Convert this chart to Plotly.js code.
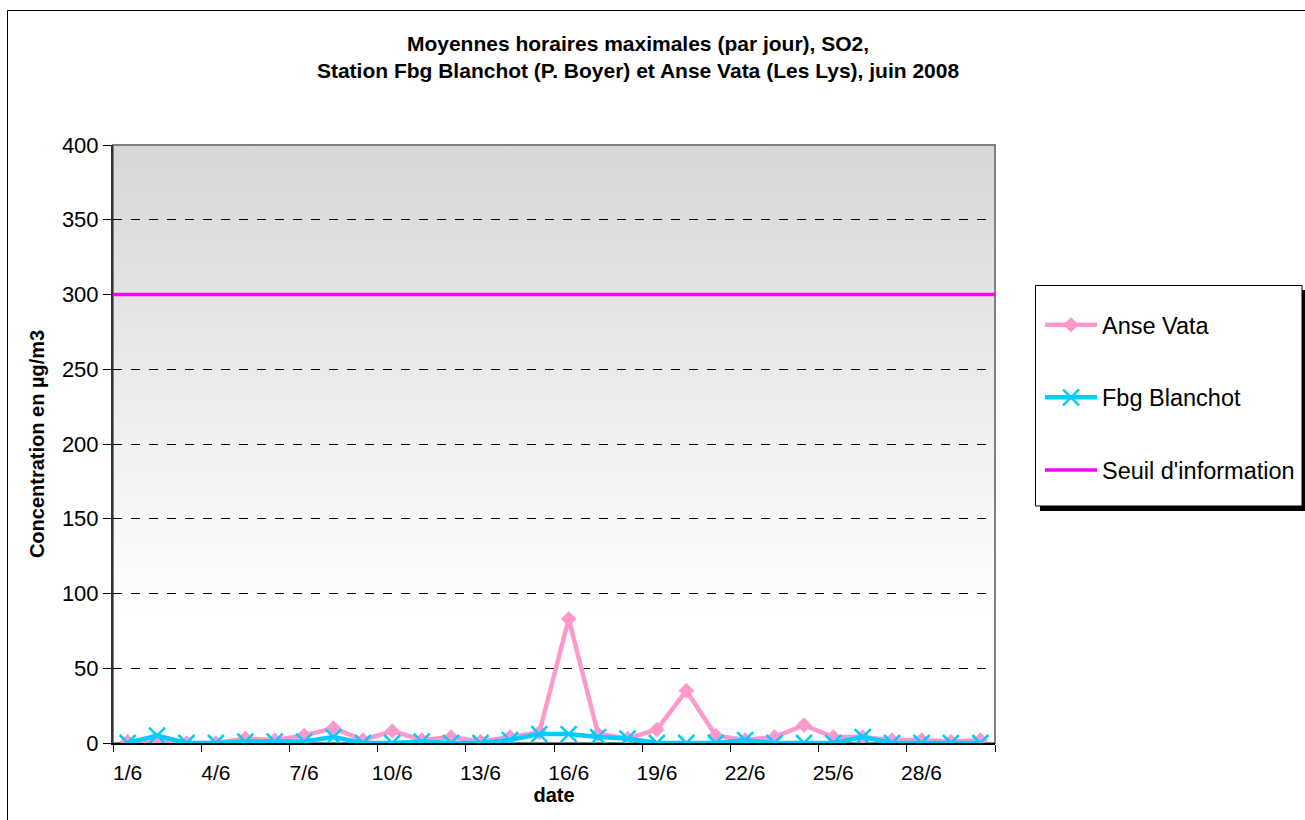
<!DOCTYPE html>
<html>
<head>
<meta charset="utf-8">
<script src="https://cdn.plot.ly/plotly-3.0.1.min.js"></script>
<style>
html,body{margin:0;padding:0;background:#fff;}
#chart{width:1305px;height:820px;}
</style>
</head>
<body>
<div id="chart"></div>
<script>
const days = ["1/6","2/6","3/6","4/6","5/6","6/6","7/6","8/6","9/6","10/6",
  "11/6","12/6","13/6","14/6","15/6","16/6","17/6","18/6","19/6","20/6",
  "21/6","22/6","23/6","24/6","25/6","26/6","27/6","28/6","29/6","30/6"];
const anseVata = [1,2,0,0,3,2,5,10,2,8,2,4,1,4,7,83,6,3,9,35,5,2,4,12,4,4,2,2,1,2];
const fbgBlanchot = [0,5,0,0,1,1,1,4,0,0,1,0,0,2,6,6,4,3,0,0,0,2,0,0,0,4,0,0,0,0];
const seuilInformation = [300,300,300,300,300,300,300,300,300,300,300,300,300,300,300,
  300,300,300,300,300,300,300,300,300,300,300,300,300,300,300];
const yTicks = [0,50,100,150,200,250,300,350,400];
// day index (0..29) for the threshold, drawn edge to edge like the original
const dayIndex = days.map((d, i) => i);

const FONT = "Arial, 'Liberation Sans', sans-serif";
// plot area in pixels
const L = 113, R = 995, T = 145, B = 743, W = 1305, H = 820;
const pw = R - L, ph = B - T;
const px = x => (x - L) / pw;
const py = y => (B - y) / ph;

const grad = '<svg xmlns="http://www.w3.org/2000/svg" width="10" height="100" preserveAspectRatio="none">' +
  '<defs><linearGradient id="g" x1="0" y1="0" x2="0" y2="1">' +
  '<stop offset="0" stop-color="#d7d7d7"/><stop offset="0.78" stop-color="#ffffff"/><stop offset="1" stop-color="#ffffff"/>' +
  '</linearGradient></defs><rect width="10" height="100" fill="url(#g)"/></svg>';

const traces = [
  {x: days, y: anseVata, name: "Anse Vata", type: "scatter", mode: "lines+markers",
   legendgroup: "a",
   line: {color: "#ff99cc", width: 4.5}, marker: {symbol: "diamond", size: 12, color: "#ff99cc"}},
  {x: days, y: fbgBlanchot, name: "Fbg Blanchot", type: "scatter", mode: "lines+markers",
   legendgroup: "b",
   line: {color: "#00ccff", width: 4.5},
   marker: {symbol: "x-thin", size: 16, color: "#00ccff", line: {color: "#00ccff", width: 2.5}}},
  {x: dayIndex, y: seuilInformation, xaxis: "x2", name: "Seuil d'information", type: "scatter", mode: "lines",
   legendgroup: "c",
   line: {color: "#ff00ff", width: 3.5}}
];

const layout = {
  width: W, height: H,
  margin: {l: L, r: W - R, t: T, b: H - B, pad: 0, autoexpand: false},
  paper_bgcolor: "rgba(0,0,0,0)",
  plot_bgcolor: "rgba(0,0,0,0)",
  font: {family: FONT, color: "#000", size: 21},
  title: {
    text: "<b>Moyennes horaires maximales (par jour), SO2,<br>Station Fbg Blanchot (P. Boyer) et Anse Vata (Les Lys), juin 2008</b>",
    font: {family: FONT, size: 21, color: "#000"},
    xref: "paper", x: px(638), xanchor: "center",
    yref: "container", y: 1 - 51 / H, yanchor: "middle"
  },
  showlegend: true,
  legend: {
    x: px(1040), y: py(303), xanchor: "left", yanchor: "top",
    bgcolor: "rgba(0,0,0,0)", borderwidth: 0,
    font: {family: FONT, size: 23.5, color: "#000"},
    traceorder: "grouped", tracegroupgap: 39, itemwidth: 52,
    itemclick: false, itemdoubleclick: false
  },
  xaxis: {
    type: "category", range: [-0.5, 29.5], fixedrange: true,
    dtick: 3, tick0: 0, tickson: "boundaries", tickangle: 0,
    ticks: "outside", ticklen: 7, tickcolor: "#000", tickwidth: 1,
    ticklabelstandoff: 10,
    showline: true, linecolor: "#000", linewidth: 2,
    showgrid: false, zeroline: false,
    tickfont: {family: FONT, size: 21, color: "#000"},
    title: {text: "<b>date</b>", font: {family: FONT, size: 20, color: "#000"}, standoff: 0}
  },
  xaxis2: {
    overlaying: "x", range: [0, 29], visible: false, fixedrange: true
  },
  yaxis: {
    range: [0, 400], fixedrange: true,
    tickvals: yTicks, ticktext: yTicks.map(String),
    ticks: "outside", ticklen: 8, tickcolor: "#000", tickwidth: 1,
    showline: true, linecolor: "#333", linewidth: 2,
    showgrid: true, gridcolor: "#000", gridwidth: 1, griddash: "dash",
    zeroline: false,
    tickfont: {family: FONT, size: 22, color: "#000"},
    title: {text: "<b>Concentration en µg/m3</b>", font: {family: FONT, size: 20, color: "#000"}, standoff: 12}
  },
  images: [{
    source: "data:image/svg+xml;charset=utf-8," + encodeURIComponent(grad),
    xref: "paper", yref: "paper", x: 0, y: 1, sizex: 1, sizey: 1,
    sizing: "stretch", layer: "below"
  }],
  shapes: [
    // outer chart frame
    {type: "rect", xref: "paper", yref: "paper", x0: px(7.5), x1: px(1320), y0: py(835), y1: py(10.5),
     line: {color: "#000", width: 1}, fillcolor: "rgba(0,0,0,0)", layer: "below"},
    // plot area border (top/right grey)
    {type: "rect", xref: "paper", yref: "paper", x0: 0, x1: 1, y0: 0, y1: 1,
     line: {color: "#808080", width: 2}, fillcolor: "rgba(0,0,0,0)", layer: "below"},
    // legend shadow
    {type: "rect", xref: "paper", yref: "paper", x0: px(1040), x1: px(1307), y0: py(511), y1: py(290),
     line: {width: 0}, fillcolor: "#000", layer: "above"},
    // legend box
    {type: "rect", xref: "paper", yref: "paper", x0: px(1035.5), x1: px(1302), y0: py(506), y1: py(285.5),
     line: {color: "#000", width: 1}, fillcolor: "#ffffff", layer: "above"}
  ]
};

Plotly.newPlot("chart", traces, layout, {displayModeBar: false, staticPlot: true});
</script>
</body>
</html>
